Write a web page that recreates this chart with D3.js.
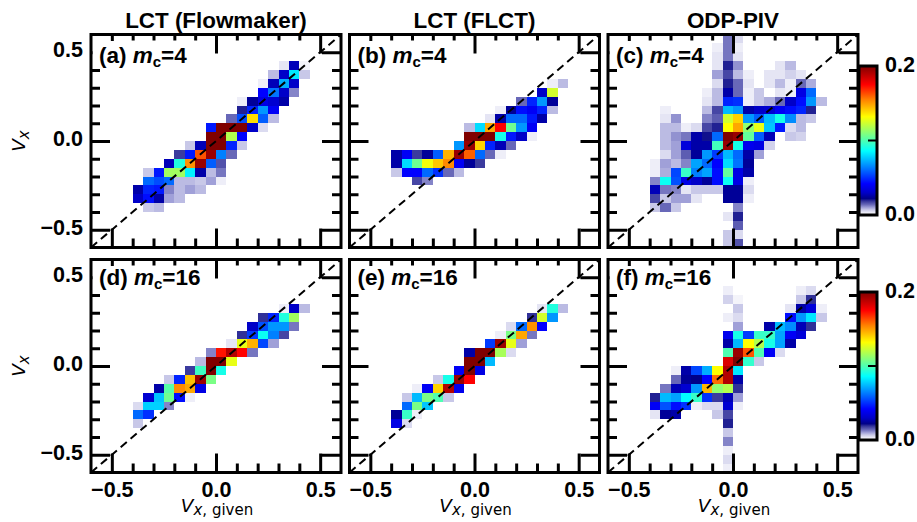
<!DOCTYPE html>
<html>
<head>
<meta charset="utf-8">
<script src="https://d3js.org/d3.v7.min.js"></script>
<style>
  body { margin: 0; background: #fff; }
  text { font-family: "Liberation Sans", Arial, sans-serif; fill: #000; }
  .axtitle, .axtitle tspan { font-family: "DejaVu Sans", sans-serif; font-weight: normal; }
</style>
</head>
<body>
<div id="chart"></div>
<script>
// histogram rows: [vy bin, first vx bin, [frequency x 1000, ...]], bins are 0.05 wide
const panelA = [
  [0.40, 0.30, [4, 28, 2]],
  [0.35, 0.25, [8, 30, 82, 7]],
  [0.30, 0.20, [3, 28, 72, 30]],
  [0.25, 0.20, [42, 62, 30, 12]],
  [0.20, 0.10, [3, 24, 36, 32, 26]],
  [0.15, 0.10, [20, 48, 68, 40]],
  [0.10, 0.05, [14, 55, 138, 58, 8]],
  [0.05, -0.05, [46, 200, 200, 200, 30, 5]],
  [0.00, -0.05, [200, 200, 118, 42]],
  [-0.05, -0.15, [7, 28, 200, 200, 48, 7]],
  [-0.10, -0.20, [18, 46, 162, 195, 64, 14]],
  [-0.15, -0.25, [28, 92, 152, 195, 58, 16]],
  [-0.20, -0.35, [7, 46, 115, 115, 84, 26, 8, 13]],
  [-0.25, -0.35, [60, 55, 60, 8, 8, 7, 10, 3]],
  [-0.30, -0.40, [26, 48, 46, 12, 8, 10, 8]],
  [-0.35, -0.40, [30, 44, 26, 10, 8]],
  [-0.40, -0.35, [7, 8]]
];
const panelB = [
  [0.30, 0.35, [3, 8]],
  [0.25, 0.30, [30, 124]],
  [0.20, 0.20, [14, 48, 68, 24]],
  [0.15, 0.10, [3, 24, 44, 40, 48, 8]],
  [0.10, 0.05, [4, 26, 60, 60, 46, 26]],
  [0.05, -0.05, [8, 80, 148, 175, 106, 68, 40]],
  [0.00, -0.05, [200, 200, 200, 90, 46, 30, 3]],
  [-0.05, -0.10, [68, 195, 140, 48, 28, 14]],
  [-0.10, -0.40, [26, 40, 18, 24, 58, 146, 195, 160, 60, 14, 3]],
  [-0.15, -0.40, [26, 80, 106, 130, 142, 153, 40, 24, 18]],
  [-0.20, -0.40, [7, 42, 42, 60, 50, 14, 8]],
  [-0.25, -0.30, [17, 12]]
];
const panelC = [
  [0.55, -0.05, [13, 5]],
  [0.50, -0.10, [3, 13, 3]],
  [0.45, -0.10, [4, 13, 4]],
  [0.40, -0.10, [4, 20, 11, 0, 0, 0, 4, 8]],
  [0.35, -0.10, [10, 17, 8, 3, 0, 4, 4, 6, 4]],
  [0.30, -0.10, [5, 20, 14, 4, 0, 4, 8, 3, 14, 9]],
  [0.25, -0.15, [3, 8, 26, 14, 3, 7, 0, 4, 3, 36, 60]],
  [0.20, -0.15, [4, 8, 48, 50, 3, 7, 9, 14, 30, 44, 68, 8]],
  [0.15, -0.35, [3, 0, 0, 0, 8, 17, 74, 68, 26, 30, 32, 40, 44, 48, 20]],
  [0.10, -0.35, [4, 11, 0, 0, 12, 15, 124, 140, 68, 58, 74, 90, 66, 8, 7]],
  [0.05, -0.35, [8, 8, 3, 5, 17, 20, 132, 148, 112, 128, 76, 46, 5, 8]],
  [0.00, -0.35, [8, 11, 13, 26, 21, 60, 200, 195, 104, 58, 28, 0, 7, 6]],
  [-0.05, -0.35, [8, 10, 34, 26, 26, 98, 195, 90, 38, 36, 6]],
  [-0.10, -0.35, [5, 10, 15, 24, 68, 52, 74, 60, 26, 10]],
  [-0.15, -0.40, [3, 10, 8, 12, 70, 60, 42, 80, 62, 24]],
  [-0.20, -0.40, [3, 9, 54, 96, 64, 70, 44, 104, 36, 26]],
  [-0.25, -0.40, [12, 88, 56, 36, 30, 24, 44, 88, 36, 3]],
  [-0.30, -0.40, [28, 13, 12, 4, 7, 7, 7, 24, 24, 5]],
  [-0.35, -0.40, [17, 7, 10, 10, 4, 0, 0, 24, 24, 3]],
  [-0.40, -0.40, [7, 14, 7, 0, 0, 0, 0, 0, 12]],
  [-0.45, -0.05, [4, 20]],
  [-0.50, 0.00, [15]],
  [-0.55, -0.05, [7, 5]],
  [-0.60, -0.05, [7, 16]]
];
const panelD = [
  [0.30, 0.30, [3, 30, 8]],
  [0.25, 0.20, [19, 48, 92, 115]],
  [0.20, 0.15, [30, 56, 68, 68, 13]],
  [0.15, 0.10, [19, 52, 88, 64, 17]],
  [0.10, 0.05, [4, 128, 146, 54, 10]],
  [0.05, -0.05, [12, 172, 190, 175, 13]],
  [0.00, -0.10, [8, 200, 200, 128]],
  [-0.05, -0.15, [18, 97, 200, 90]],
  [-0.10, -0.25, [7, 48, 143, 195, 108]],
  [-0.15, -0.30, [26, 102, 153, 148, 36]],
  [-0.20, -0.35, [32, 76, 106, 44, 3]],
  [-0.25, -0.40, [5, 78, 78, 12]],
  [-0.30, -0.40, [60, 50]],
  [-0.35, -0.40, [7]]
];
const panelE = [
  [0.30, 0.30, [4, 92, 8]],
  [0.25, 0.25, [19, 124, 68]],
  [0.20, 0.15, [5, 60, 152, 42]],
  [0.15, 0.10, [3, 108, 148, 13]],
  [0.10, 0.05, [52, 195, 128, 10]],
  [0.05, -0.05, [26, 200, 200, 116, 5]],
  [0.00, -0.05, [200, 200, 74]],
  [-0.05, -0.10, [40, 200, 36]],
  [-0.10, -0.20, [7, 90, 195, 175]],
  [-0.15, -0.30, [3, 40, 140, 190, 38]],
  [-0.20, -0.35, [7, 74, 108, 100, 7]],
  [-0.25, -0.35, [60, 108, 76]],
  [-0.30, -0.40, [24, 96, 3]],
  [-0.35, -0.40, [36, 5]]
];
const panelF = [
  [0.40, -0.05, [3, 0, 0, 0, 0, 0, 0, 3, 5]],
  [0.35, -0.05, [6, 2, 0, 0, 0, 0, 0, 7, 19]],
  [0.30, 0.00, [7, 0, 0, 0, 0, 4, 26, 34, 3]],
  [0.25, -0.05, [3, 5, 0, 0, 0, 0, 44, 68, 82, 7]],
  [0.20, 0.00, [10, 0, 0, 26, 74, 66, 28, 19]],
  [0.15, -0.05, [38, 90, 52, 96, 96, 70, 40, 34]],
  [0.10, -0.05, [26, 74, 132, 118, 90, 70, 26]],
  [0.05, -0.05, [100, 195, 162, 100, 40, 5]],
  [0.00, -0.05, [182, 200, 95, 7]],
  [-0.05, -0.30, [3, 26, 54, 72, 132, 190, 82]],
  [-0.10, -0.30, [14, 24, 22, 42, 158, 190, 26]],
  [-0.15, -0.35, [13, 28, 32, 68, 145, 112, 118, 19]],
  [-0.20, -0.40, [20, 74, 70, 86, 96, 50, 18, 28, 10]],
  [-0.25, -0.40, [40, 56, 44, 50, 3, 5, 5, 32, 3]],
  [-0.30, -0.40, [4, 24, 26, 0, 0, 0, 7, 17]],
  [-0.35, -0.05, [20]],
  [-0.40, -0.05, [7]],
  [-0.45, -0.05, [12]],
  [-0.50, -0.05, [3]],
  [-0.55, -0.05, [5]],
  [-0.60, -0.05, [3]]
];

const columnTitles = ["LCT (Flowmaker)", "LCT (FLCT)", "ODP-PIV"];
const panelLetters = ["(a)", "(b)", "(c)", "(d)", "(e)", "(f)"];
const panelCells = ["4", "4", "4", "16", "16", "16"];
const majorTicks = [-0.5, 0, 0.5];
const minorTicks = [-0.4, -0.3, -0.2, -0.1, 0.1, 0.2, 0.3, 0.4];

const colorStops = [0, 3, 7, 10, 14, 19, 22, 30, 42, 64, 86, 109, 132, 155, 175, 200];
const colorValues = ["#ffffff", "#eeeef8", "#c8c8e8", "#a0a0d8", "#6868b8", "#303098", "#000088", "#0000c8",
  "#0000ff", "#0080ff", "#00ffff", "#80ff80", "#ffff00", "#ff8000", "#ff0000", "#800000"];

function main() {
    const panels = [panelA, panelB, panelC, panelD, panelE, panelF];
    const lefts = [91, 349.5, 608], tops = [34.5, 259.5];
    const width = 250, height = 213, binSize = 0.05;

    const svg = d3.select("#chart")
        .append("svg")
        .attr("width", 917)
        .attr("height", 522)
        .style("display", "block");

    const x = d3.scaleLinear().domain([-0.6, 0.6]).range([0, width]);
    const y = d3.scaleLinear().domain([-0.6, 0.6]).range([height, 0]);
    const color = d3.scaleLinear().domain(colorStops).range(colorValues);

    // inward ticks on all four sides, labels only on outer panels
    function drawAxes(g, showX, showY) {
        const sides = [
            {axis: d3.axisBottom(x), at: [0, height], minor: 9, pad: 9.5, labels: showX, dy: "0.71em"},
            {axis: d3.axisTop(x), at: [0, 0], minor: 6, pad: 8, labels: false},
            {axis: d3.axisLeft(y), at: [0, 0], minor: 9, pad: 8, labels: showY, dy: "0.2em"},
            {axis: d3.axisRight(y), at: [width, 0], minor: 9, pad: 8, labels: false}
        ];
        sides.forEach(function (s) {
            [[majorTicks, 19, s.labels], [minorTicks, s.minor, false]].forEach(function (t) {
                const a = g.append("g")
                    .attr("transform", `translate(${s.at[0]},${s.at[1]})`)
                    .call(s.axis.tickValues(t[0]).tickSize(-t[1]).tickSizeOuter(0).tickPadding(s.pad)
                        .tickFormat(t[2] ? d3.format(".1f") : ""));
                a.select(".domain").remove();
                a.selectAll("line").attr("stroke", "#000").attr("stroke-width", 3);
                a.selectAll("text")
                    .attr("font-size", 21.5)
                    .attr("font-weight", "bold")
                    .attr("dy", s.dy)
                    .style("font-family", '"Liberation Sans", Arial, sans-serif');
            });
        });
    }

    panels.forEach(function (rows, i) {
        const col = i % 3, row = Math.floor(i / 3);
        const g = svg.append("g")
            .attr("transform", `translate(${lefts[col]},${tops[row]})`);

        const cells = rows.flatMap(function (r) {
            return r[2].map(function (v, k) {
                return {vy: r[0], vx: r[1] + k * binSize, v: v};
            });
        }).filter(function (d) { return d.v > 0; });

        g.append("g")
            .selectAll("rect")
            .data(cells)
            .enter()
            .append("rect")
            .attr("x", function (d) { return x(d.vx); })
            .attr("y", function (d) { return y(d.vy + binSize); })
            .attr("width", x(binSize) - x(0))
            .attr("height", y(0) - y(binSize))
            .attr("fill", function (d) { return color(d.v); })
            .attr("shape-rendering", "crispEdges");

        g.append("line")
            .attr("x1", x(-0.6)).attr("y1", y(-0.6))
            .attr("x2", x(0.6)).attr("y2", y(0.6))
            .attr("stroke", "#000")
            .attr("stroke-width", 2)
            .attr("stroke-dasharray", "8,5");

        drawAxes(g, row === 1, col === 0);

        // white box behind the panel label hides the ticks under it
        const labelBox = g.append("rect").attr("fill", "#fff");

        g.append("rect")
            .attr("width", width)
            .attr("height", height)
            .attr("fill", "none")
            .attr("stroke", "#000")
            .attr("stroke-width", 3);

        // panel label
        const label = g.append("text")
            .attr("x", 8)
            .attr("y", row === 0 ? 28 : 25.5)
            .attr("font-size", 22.5)
            .attr("font-weight", "bold");
        label.append("tspan").text(panelLetters[i] + "\u00a0");
        label.append("tspan").attr("font-style", "italic").text("m");
        label.append("tspan").attr("font-size", 15).attr("dy", 4).text("c");
        label.append("tspan").attr("dy", -4).text("=" + panelCells[i]);

        const box = label.node().getBBox();
        labelBox.attr("x", 1.5)
            .attr("y", 6.5)
            .attr("width", box.x + box.width)
            .attr("height", 26.5);

        if (row === 0) {
            g.append("text")
                .attr("x", width / 2)
                .attr("y", -7)
                .attr("text-anchor", "middle")
                .attr("font-size", 22.4)
                .attr("font-weight", "bold")
                .text(columnTitles[col]);
        }

        if (col === 0) {
            const t = g.append("text")
                .attr("class", "axtitle")
                .attr("transform", `translate(-66,${height / 2}) rotate(-90)`)
                .attr("text-anchor", "middle")
                .attr("font-size", 18.5)
                .attr("font-style", "italic");
            t.append("tspan").text("V");
            t.append("tspan").attr("font-size", 15).attr("dy", 4).text("x");
        }

        if (row === 1) {
            const t = g.append("text")
                .attr("class", "axtitle")
                .attr("x", width / 2 + 1)
                .attr("y", height + 39.5)
                .attr("text-anchor", "middle")
                .attr("font-size", 18.5);
            t.append("tspan").attr("font-style", "italic").text("V");
            t.append("tspan").attr("font-size", 15).attr("dy", 3).attr("font-style", "italic").text("x");
            t.append("tspan").attr("font-size", 15).text(",\u00a0given");
        }
    });

    // colour bars
    const defs = svg.append("defs");
    const grad = defs.append("linearGradient")
        .attr("id", "cbar")
        .attr("x1", 0).attr("y1", 1).attr("x2", 0).attr("y2", 0);
    grad.selectAll("stop")
        .data(colorStops)
        .enter()
        .append("stop")
        .attr("offset", function (d) { return d / 200; })
        .attr("stop-color", function (d) { return color(d); });

    [[66, 215], [292, 440]].forEach(function (b) {
        const cy = d3.scaleLinear().domain([0, 0.2]).range([b[1], b[0]]);
        const g = svg.append("g").attr("transform", "translate(859,0)");
        g.append("rect")
            .attr("y", cy(0.2))
            .attr("width", 18)
            .attr("height", cy(0) - cy(0.2))
            .attr("fill", "url(#cbar)")
            .attr("stroke", "#000")
            .attr("stroke-width", 3);
        g.append("line")
            .attr("x1", 9).attr("x2", 18)
            .attr("y1", cy(0.1)).attr("y2", cy(0.1))
            .attr("stroke", "#000")
            .attr("stroke-width", 2);
        [0, 0.2].forEach(function (v) {
            g.append("text")
                .attr("x", 26)
                .attr("y", cy(v) + 6)
                .attr("font-size", 21.5)
                .attr("font-weight", "bold")
                .text(d3.format(".1f")(v));
        });
    });
}

main()
</script>
</body>
</html>
